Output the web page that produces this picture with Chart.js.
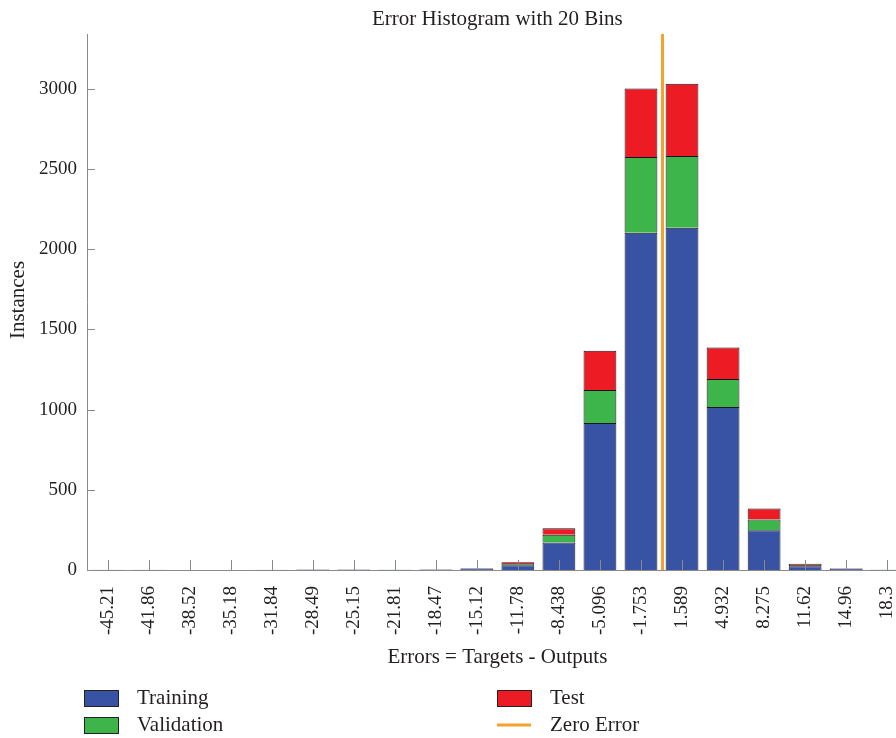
<!DOCTYPE html>
<html>
<head>
<meta charset="utf-8">
<script src="https://cdn.jsdelivr.net/npm/chart.js@4"></script>
<style>
  html, body { margin: 0; padding: 0; background: #fff; }
  #wrap { width: 896px; height: 738px; overflow: hidden; position: relative; }
  #wrap canvas { display: block; }
</style>
</head>
<body>
<div id="wrap"><canvas id="hist" width="918" height="738"></canvas></div>
<script>
// Bin centres of the error histogram (20 bins)
const binLabels = ['-45.21','-41.86','-38.52','-35.18','-31.84','-28.49','-25.15','-21.81','-18.47','-15.12',
                   '-11.78','-8.438','-5.096','-1.753','1.589','4.932','8.275','11.62','14.96','18.3'];
// Instances per bin for each subset
const trainingCounts   = [2, 2, 0, 0, 2, 3, 3, 2, 3, 9, 30, 172, 916, 2102, 2133, 1015, 248, 23, 8, 2];
const validationCounts = [0, 0, 0, 0, 0, 0, 0, 1, 1, 2,  8,  47, 206,  471,  446,  175,  66,  8, 2, 1];
const testCounts       = [0, 0, 0, 0, 0, 0, 0, 0, 0, 1, 10,  41, 244,  427,  451,  197,  70,  8, 2, 0];
// Location of zero error, as a fraction between bin centres -1.753 and 1.589
const zeroErrorPos = 13 + 1.753 / (1.753 + 1.589);
const yTicks = [0, 500, 1000, 1500, 2000, 2500, 3000];

const SERIF = '"Liberation Serif", "Times New Roman", serif';
const TXT = '#231f20';
const AXIS = '#8a8a8a';
const COLORS = { training: '#3953a4', validation: '#3db54a', test: '#ed1c24', zero: '#f4a22d' };

const extras = {
  id: 'extras',
  afterDatasetsDraw(chart) {
    const { ctx, chartArea: a, scales: { x, y } } = chart;
    ctx.save();
    // inward tick marks
    ctx.strokeStyle = AXIS;
    ctx.lineWidth = 1;
    ctx.beginPath();
    yTicks.forEach(v => {
      const py = Math.round(y.getPixelForValue(v)) + 0.5;
      ctx.moveTo(a.left, py); ctx.lineTo(a.left + 8, py);
    });
    binLabels.forEach((_, i) => {
      const px = Math.round(x.getPixelForValue(i)) + 0.5;
      ctx.moveTo(px, a.bottom); ctx.lineTo(px, a.bottom - 10);
    });
    ctx.stroke();
    // zero error line
    const zx = x.getPixelForValue(zeroErrorPos);
    ctx.strokeStyle = COLORS.zero;
    ctx.lineWidth = 3;
    ctx.beginPath();
    ctx.moveTo(zx, a.top); ctx.lineTo(zx, a.bottom);
    ctx.stroke();
    ctx.restore();
  },
  afterDraw(chart) {
    const { ctx, chartArea: a } = chart;
    const cx = (a.left + a.right) / 2;
    ctx.save();
    ctx.fillStyle = TXT;
    ctx.textAlign = 'center';
    ctx.textBaseline = 'middle';
    ctx.font = '21px ' + SERIF;
    ctx.fillText('Error Histogram with 20 Bins', cx, 19);
    ctx.fillText('Errors = Targets - Outputs', cx, 657);
    ctx.save();
    ctx.translate(18, 300);
    ctx.rotate(-Math.PI / 2);
    ctx.fillText('Instances', 0, 0);
    ctx.restore();

    // legend in two columns
    const ds = chart.data.datasets;
    const items = [
      { label: ds[0].label, color: ds[0].backgroundColor, x: 84, y: 698 },
      { label: ds[1].label, color: ds[1].backgroundColor, x: 84, y: 725 },
      { label: ds[2].label, color: ds[2].backgroundColor, x: 497, y: 698 },
      { label: 'Zero Error', color: COLORS.zero, x: 497, y: 725, line: true }
    ];
    ctx.textAlign = 'left';
    ctx.font = '21px ' + SERIF;
    items.forEach(it => {
      if (it.line) {
        ctx.strokeStyle = it.color;
        ctx.lineWidth = 3;
        ctx.beginPath();
        ctx.moveTo(it.x, it.y); ctx.lineTo(it.x + 34, it.y);
        ctx.stroke();
      } else {
        ctx.fillStyle = it.color;
        ctx.fillRect(it.x, it.y - 8, 35, 17);
        ctx.strokeStyle = '#222';
        ctx.lineWidth = 1;
        ctx.strokeRect(it.x + 0.5, it.y - 7.5, 34, 16);
      }
      ctx.fillStyle = TXT;
      ctx.fillText(it.label, it.x + 53, it.y);
    });
    ctx.restore();
  }
};

const barStyle = { borderColor: '#15151f', borderWidth: 1, barPercentage: 0.8, categoryPercentage: 1.0 };

new Chart(document.getElementById('hist'), {
  type: 'bar',
  data: {
    labels: binLabels,
    datasets: [
      { label: 'Training',   data: trainingCounts,   backgroundColor: COLORS.training,   ...barStyle },
      { label: 'Validation', data: validationCounts, backgroundColor: COLORS.validation, ...barStyle },
      { label: 'Test',       data: testCounts,       backgroundColor: COLORS.test,       ...barStyle }
    ]
  },
  options: {
    responsive: false,
    animation: false,
    layout: { padding: { top: 34, right: 0, left: 0, bottom: 0 } },
    plugins: { legend: { display: false }, title: { display: false }, tooltip: { enabled: false } },
    scales: {
      x: {
        stacked: true,
        offset: true,
        grid: { display: false },
        border: { display: true, color: AXIS, width: 1 },
        ticks: {
          autoSkip: false, minRotation: 90, maxRotation: 90, padding: 8,
          color: TXT, font: { family: SERIF, size: 19 }
        },
        afterFit(s) { s.height = 738 - 570; }
      },
      y: {
        stacked: true,
        min: 0,
        max: 3340,
        grid: { display: false },
        border: { display: true, color: AXIS, width: 1 },
        ticks: {
          stepSize: 500, padding: 2, color: TXT, font: { family: SERIF, size: 19 },
          callback: v => String(v)
        },
        afterBuildTicks(s) { s.ticks = yTicks.map(v => ({ value: v })); },
        afterFit(s) { s.width = 87; }
      }
    }
  },
  plugins: [extras]
});
</script>
</body>
</html>
